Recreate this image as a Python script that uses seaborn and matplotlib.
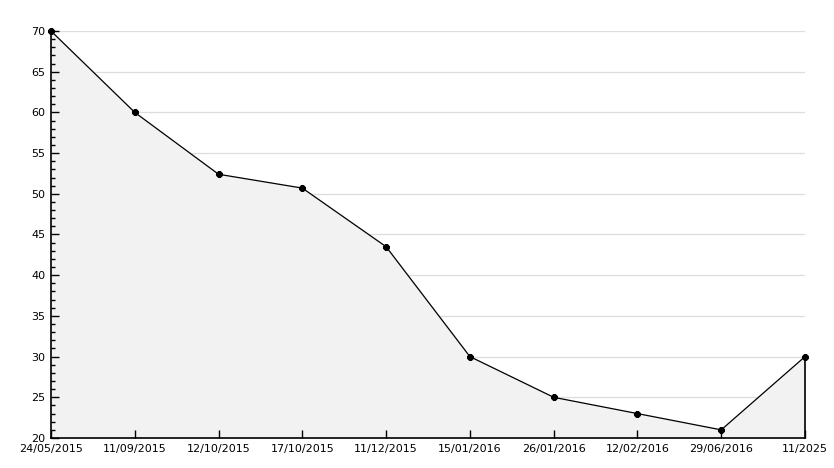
import numpy as np
import pandas as pd
import matplotlib
matplotlib.use("Agg")
import matplotlib.pyplot as plt
import matplotlib.transforms as mtransforms
import seaborn as sns
from matplotlib.ticker import MultipleLocator

dates = ["24/05/2015", "11/09/2015", "12/10/2015", "17/10/2015", "11/12/2015",
         "15/01/2016", "26/01/2016", "12/02/2016", "29/06/2016", "11/2025"]
values = [70, 60, 52.4, 50.7, 43.5, 30, 25, 23, 21, 30]

df = pd.DataFrame({"pos": np.arange(len(dates)), "value": values})

sns.set_style("white")
plt.rcParams['font.family'] = ['DejaVu Sans']

fig = plt.figure(figsize=(8.34, 4.68), dpi=100)
ax = fig.add_axes([51 / 834, 30 / 468, 754 / 834, 407 / 468])

ax.set_xlim(0, len(dates) - 1)
ax.set_ylim(20, 70)
ax.yaxis.set_major_locator(MultipleLocator(5))
ax.yaxis.set_minor_locator(MultipleLocator(1))

# gridlines drawn under the fill
for yv in range(25, 71, 5):
    ax.axhline(yv, color="#dddddd", lw=0.9, zorder=0.1)

ax.fill_between(df["pos"], df["value"], 20, color="#f2f2f2", zorder=1)
sns.lineplot(data=df, x="pos", y="value", ax=ax, color="black", lw=0.9,
             marker="8", markersize=4.5, markeredgecolor="black", zorder=3,
             clip_on=False)
ax.plot([df["pos"].iloc[-1]] * 2, [20, values[-1]], color="black", lw=1.2,
        zorder=3, clip_on=False)

ax.set_xticks(df["pos"])
ax.set_xticklabels(dates)
ax.set_axisbelow(False)

for s in ["top", "right"]:
    ax.spines[s].set_visible(False)
for s in ["left", "bottom"]:
    ax.spines[s].set_color("black")
    ax.spines[s].set_linewidth(1.2)
    ax.spines[s].set_zorder(4)

ax.tick_params(axis="y", which="major", direction="in", length=6, width=1,
               labelsize=8, pad=4, colors="black", left=True)
ax.tick_params(axis="y", which="minor", direction="in", length=3, width=1,
               left=True, color="black")
ax.tick_params(axis="x", direction="in", length=6, width=1, labelsize=8,
               pad=4, colors="black", bottom=True)
ax.set_xlabel("")
ax.set_ylabel("")

# lift the bottom y label a little so it sits above the first date
fig.canvas.draw()
lbl = ax.get_yticklabels()[0]
lbl.set_transform(lbl.get_transform() + mtransforms.ScaledTranslation(0, 3 / 100, fig.dpi_scale_trans))

fig.savefig("out.png", dpi=100)
